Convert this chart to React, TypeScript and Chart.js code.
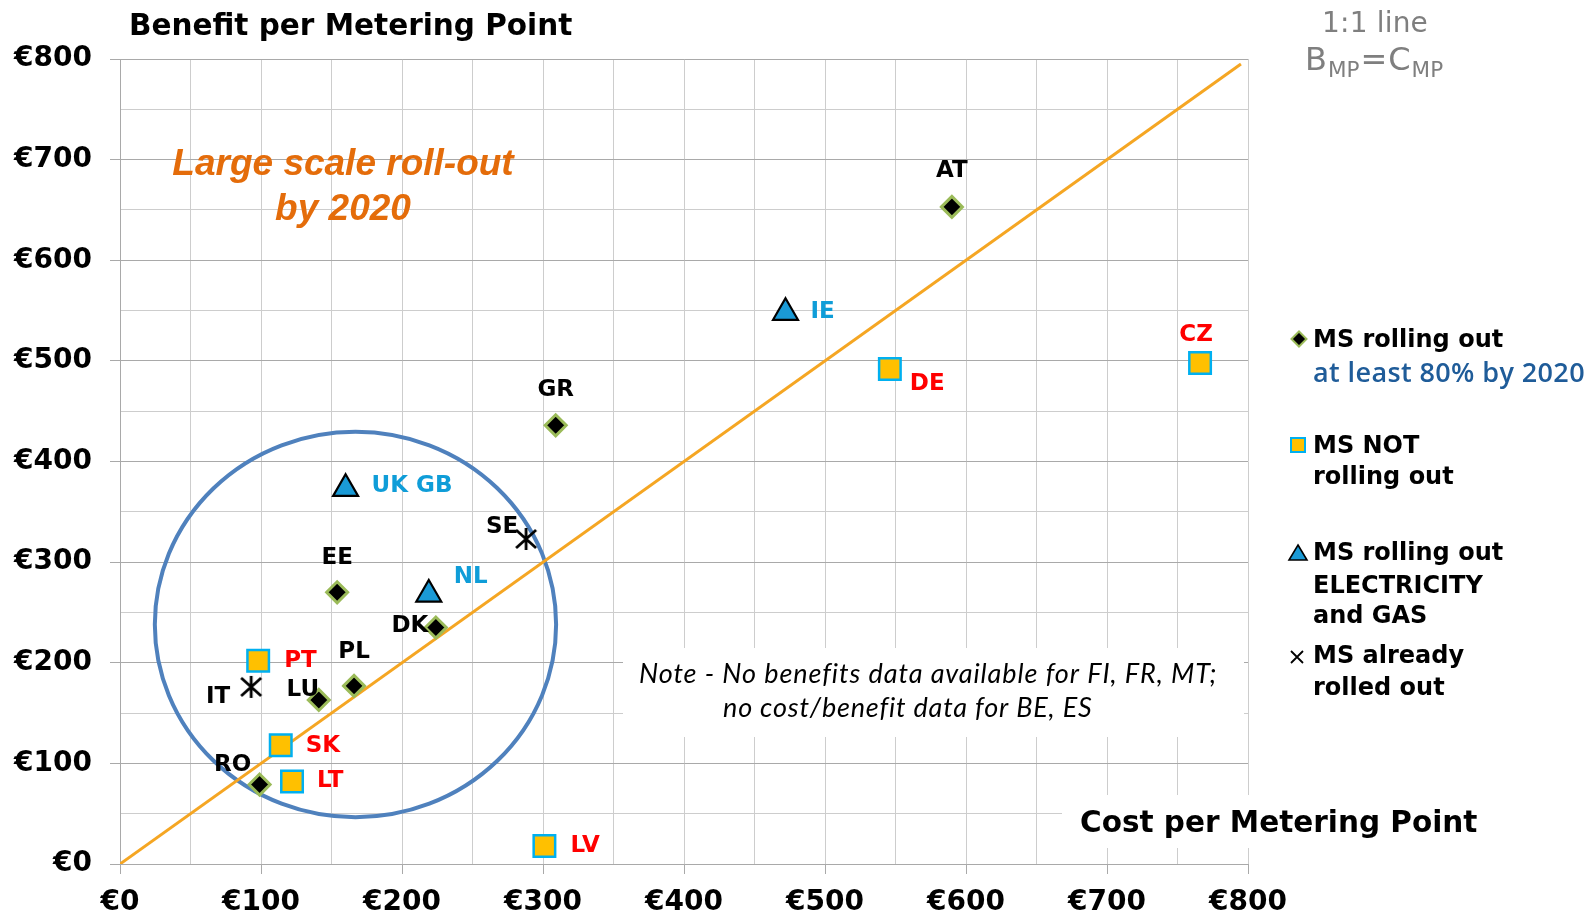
import React, { useEffect, useRef } from 'react';
import { Chart, registerables } from 'chart.js';

Chart.register(...registerables);

// MS rolling out at least 80% by 2020
const rollingCountries = ['AT', 'GR', 'EE', 'DK', 'PL', 'LU', 'RO'];
const rollingCost = [590, 309, 154, 224, 166, 141, 99];
const rollingBenefit = [653, 436, 270, 235, 177, 163, 79];

// MS NOT rolling out
const notRollingCountries = ['CZ', 'DE', 'PT', 'SK', 'LT', 'LV'];
const notRollingCost = [766, 546, 98, 114, 122, 301];
const notRollingBenefit = [498, 492, 202, 118, 82, 18];

// MS rolling out ELECTRICITY and GAS
const dualCountries = ['IE', 'UK GB', 'NL'];
const dualCost = [472, 160, 219];
const dualBenefit = [548, 373, 268];

// MS already rolled out
const doneCountries = ['SE', 'IT'];
const doneCost = [288, 93];
const doneBenefit = [323, 176];

// Labelled ticks on both axes (gridlines every 50)
const tickLabels = [0, 100, 200, 300, 400, 500, 600, 700, 800];

// 1:1 line end points (cost = benefit)
const parityCost = [0, 795];
const parityBenefit = [0, 795];

// Highlight ring around the low-cost group, in axis units
const ringCenterCost = 167;
const ringCenterBenefit = 238;
const ringRadiusCost = 142.3;
const ringRadiusBenefit = 191.5;

const FONT = "'DejaVu Sans', Verdana, sans-serif";
const BLUE_LABEL = '#0f9dd8';
const RED_LABEL = '#ff0000';

// Label placement relative to each marker (pixels)
const labelPlacement: Record<string, { dx: number; dy: number; align: CanvasTextAlign }> = {
  AT: { dx: 0, dy: -36, align: 'center' },
  GR: { dx: 0, dy: -35, align: 'center' },
  EE: { dx: 0, dy: -34, align: 'center' },
  DK: { dx: -26, dy: -2, align: 'center' },
  PL: { dx: 0, dy: -34, align: 'center' },
  LU: { dx: -16, dy: -10, align: 'center' },
  RO: { dx: -27, dy: -19, align: 'center' },
  CZ: { dx: -4, dy: -28, align: 'center' },
  DE: { dx: 20, dy: 15, align: 'left' },
  PT: { dx: 26, dy: 0, align: 'left' },
  SK: { dx: 25, dy: 1, align: 'left' },
  LT: { dx: 25, dy: 0, align: 'left' },
  LV: { dx: 26, dy: 0, align: 'left' },
  IE: { dx: 25, dy: -1, align: 'left' },
  'UK GB': { dx: 26, dy: -3, align: 'left' },
  NL: { dx: 25, dy: -17, align: 'left' },
  SE: { dx: -24, dy: -12, align: 'center' },
  IT: { dx: -33, dy: 10, align: 'center' },
};

function toPoints(cost: number[], benefit: number[]) {
  return cost.map((c, i) => ({ x: c, y: benefit[i] }));
}

// Draws left-aligned text in the given font, grown (up to maxSize) and then
// letter-spaced so that it spans the requested width
function fitText(
  ctx: CanvasRenderingContext2D,
  text: string,
  x: number,
  y: number,
  width: number,
  style: string,
  size: number,
  maxSize: number,
  family: string
) {
  const c = ctx as any;
  c.letterSpacing = '0px';
  ctx.font = `${style} ${size}px ${family}`;
  const w0 = ctx.measureText(text).width;
  const s = Math.min(maxSize, Math.max(size * 0.85, (size * width) / w0));
  ctx.font = `${style} ${s.toFixed(2)}px ${family}`;
  const w = ctx.measureText(text).width;
  const extra = (width - w) / Math.max(1, text.length);
  c.letterSpacing = `${extra.toFixed(2)}px`;
  ctx.fillText(text, x, y);
  c.letterSpacing = '0px';
}

function makeStarMarker(size: number) {
  const c = document.createElement('canvas');
  c.width = size;
  c.height = size;
  const g = c.getContext('2d')!;
  g.strokeStyle = '#000';
  g.lineWidth = 2.8;
  const m = 3;
  g.beginPath();
  g.moveTo(m, m + 1);
  g.lineTo(size - m, size - m - 1);
  g.moveTo(size - m, m + 1);
  g.lineTo(m, size - m - 1);
  g.moveTo(size / 2, m - 1);
  g.lineTo(size / 2, size - m + 1);
  g.stroke();
  return c;
}

function legendDiamond(ctx: CanvasRenderingContext2D, x: number, y: number, r: number) {
  ctx.beginPath();
  ctx.moveTo(x - r, y);
  ctx.lineTo(x, y - r);
  ctx.lineTo(x + r, y);
  ctx.lineTo(x, y + r);
  ctx.closePath();
  ctx.fillStyle = '#000';
  ctx.fill();
  ctx.lineWidth = 2;
  ctx.strokeStyle = '#9bbb59';
  ctx.stroke();
}

function drawLegend(ctx: CanvasRenderingContext2D) {
  ctx.save();
  ctx.textAlign = 'left';
  ctx.textBaseline = 'alphabetic';
  const tx = 1313;
  const boldFont = `bold 24px ${FONT}`;

  legendDiamond(ctx, 1299, 339, 7.5);
  ctx.font = boldFont;
  ctx.fillStyle = '#000';
  ctx.fillText('MS rolling out', tx, 347);
  ctx.fillStyle = '#1f5c99';
  fitText(ctx, 'at least 80% by 2020', tx, 382, 272, '600', 25, 27, "'Open Sans', sans-serif");

  ctx.fillStyle = '#ffc000';
  ctx.fillRect(1291, 438, 14, 14);
  ctx.strokeStyle = '#00b0f0';
  ctx.lineWidth = 2;
  ctx.strokeRect(1291, 438, 14, 14);
  ctx.font = boldFont;
  ctx.fillStyle = '#000';
  ctx.fillText('MS NOT', tx, 453);
  ctx.fillText('rolling out', tx, 484);

  ctx.beginPath();
  ctx.moveTo(1298, 545);
  ctx.lineTo(1307, 560);
  ctx.lineTo(1289, 560);
  ctx.closePath();
  ctx.fillStyle = '#1a9ad6';
  ctx.fill();
  ctx.strokeStyle = '#000';
  ctx.lineWidth = 1.6;
  ctx.stroke();
  ctx.fillStyle = '#000';
  ctx.fillText('MS rolling out', tx, 560);
  ctx.fillText('ELECTRICITY', tx, 593);
  ctx.fillText('and GAS', tx, 623);

  ctx.beginPath();
  ctx.moveTo(1291, 651);
  ctx.lineTo(1303, 663);
  ctx.moveTo(1303, 651);
  ctx.lineTo(1291, 663);
  ctx.strokeStyle = '#000';
  ctx.lineWidth = 1.8;
  ctx.stroke();
  ctx.fillText('MS already', tx, 663);
  ctx.fillText('rolled out', tx, 695);
  ctx.restore();
}

function drawHeaderTexts(ctx: CanvasRenderingContext2D) {
  ctx.save();
  ctx.textBaseline = 'alphabetic';
  ctx.textAlign = 'left';
  ctx.fillStyle = '#000';
  ctx.font = `bold 29.5px ${FONT}`;
  ctx.fillText('Benefit per Metering Point', 129, 35);

  // 1:1 line caption
  ctx.fillStyle = '#7f7f7f';
  fitText(ctx, '1:1 line', 1322, 32, 106, 'normal', 27, 28, FONT);
  let x = 1305;
  const big = `32px ${FONT}`;
  const small = `21.5px ${FONT}`;
  const parts: [string, string, number][] = [
    ['B', big, 70],
    ['MP', small, 77],
    ['=', big, 70],
    ['C', big, 70],
    ['MP', small, 77],
  ];
  for (const [t, f, y] of parts) {
    ctx.font = f;
    ctx.fillText(t, x, y);
    x += ctx.measureText(t).width + 1;
  }

  // Roll-out caption
  ctx.fillStyle = '#e46c0a';
  ctx.font = `italic bold 37px 'Liberation Sans', Arial, sans-serif`;
  ctx.textAlign = 'center';
  ctx.fillText('Large scale roll-out', 343, 175);
  ctx.fillText('by 2020', 343, 220);
  ctx.restore();
}

const backdropPlugin = {
  id: 'backdrop',
  beforeDatasetsDraw(chart: any) {
    const ctx: CanvasRenderingContext2D = chart.ctx;
    const xs = chart.scales.x;
    const ys = chart.scales.y;
    ctx.save();
    // note box
    ctx.fillStyle = '#fff';
    ctx.fillRect(623, 648, 621, 89);
    ctx.fillStyle = '#000';
    ctx.textAlign = 'left';
    ctx.textBaseline = 'alphabetic';
    const noteFamily = "Lato, 'Open Sans', sans-serif";
    fitText(ctx, 'Note - No benefits data available for FI, FR, MT;', 639, 683, 578, 'italic', 23, 27, noteFamily);
    fitText(ctx, 'no cost/benefit data for BE, ES', 723, 717, 369, 'italic', 23, 27, noteFamily);

    // x-axis title box
    ctx.fillStyle = '#fff';
    ctx.fillRect(1062, 795, 440, 53);
    ctx.fillStyle = '#000';
    ctx.font = `bold 29.5px ${FONT}`;
    ctx.fillText('Cost per Metering Point', 1080, 832);

    // highlight ring
    const cx = xs.getPixelForValue(ringCenterCost);
    const cy = ys.getPixelForValue(ringCenterBenefit);
    const rx = xs.getPixelForValue(ringCenterCost + ringRadiusCost) - cx;
    const ry = cy - ys.getPixelForValue(ringCenterBenefit + ringRadiusBenefit);
    ctx.beginPath();
    ctx.ellipse(cx, cy, rx, ry, 0, 0, Math.PI * 2);
    ctx.strokeStyle = '#4f81bd';
    ctx.lineWidth = 4;
    ctx.stroke();
    ctx.restore();
  },
  afterDatasetsDraw(chart: any) {
    const ctx: CanvasRenderingContext2D = chart.ctx;
    const xs = chart.scales.x;
    const ys = chart.scales.y;
    ctx.save();
    ctx.font = `bold 23px ${FONT}`;
    ctx.textBaseline = 'middle';
    const groups: [string[], number[], number[], string][] = [
      [rollingCountries, rollingCost, rollingBenefit, '#000'],
      [notRollingCountries, notRollingCost, notRollingBenefit, RED_LABEL],
      [dualCountries, dualCost, dualBenefit, BLUE_LABEL],
      [doneCountries, doneCost, doneBenefit, '#000'],
    ];
    for (const [names, cost, benefit, color] of groups) {
      names.forEach((n, i) => {
        const p = labelPlacement[n];
        const px = xs.getPixelForValue(cost[i]);
        const py = ys.getPixelForValue(benefit[i]);
        ctx.fillStyle = color;
        ctx.textAlign = p.align;
        ctx.fillText(n, px + p.dx, py + p.dy);
      });
    }
    ctx.restore();
  },
  afterDraw(chart: any) {
    drawHeaderTexts(chart.ctx);
    drawLegend(chart.ctx);
  },
};

function axisOptions(kind: 'x' | 'y') {
  return {
    type: 'linear' as const,
    min: 0,
    max: 800,
    afterFit: (s: any) => {
      if (kind === 'x') s.height = 51;
      else s.width = 120;
    },
    ticks: {
      stepSize: 50,
      autoSkip: false,
      maxRotation: 0,
      padding: kind === 'x' ? 12 : 18,
      color: '#000',
      font: { family: FONT, size: 28, weight: 'bold' as const },
      callback: (v: any) => (tickLabels.includes(Number(v)) ? '€' + v : ''),
    },
    grid: {
      tickLength: 10,
      lineWidth: 1,
      color: (c: any) =>
        kind === 'y' && c.tick && c.tick.value % 100 === 0 ? '#a9a9a9' : '#cdcdcd',
      tickColor: (c: any) =>
        c.tick && c.tick.value % 100 === 0 ? '#a9a9a9' : 'rgba(0,0,0,0)',
    },
    border: { color: '#a9a9a9' },
  };
}

export default function App() {
  const ref = useRef<HTMLCanvasElement | null>(null);

  useEffect(() => {
    document.body.style.margin = '0';
    const star = makeStarMarker(26);
    const chart = new Chart(ref.current!, {
      type: 'scatter',
      data: {
        datasets: [
          {
            label: 'MS rolling out at least 80% by 2020',
            data: toPoints(rollingCost, rollingBenefit),
            pointStyle: 'rectRot',
            pointRadius: 10.5,
            backgroundColor: '#000',
            borderColor: '#9bbb59',
            borderWidth: 3,
          },
          {
            label: 'MS NOT rolling out',
            data: toPoints(notRollingCost, notRollingBenefit),
            pointStyle: 'rect',
            pointRadius: 15.2,
            backgroundColor: '#ffc000',
            borderColor: '#00b0f0',
            borderWidth: 2.5,
          },
          {
            label: 'MS rolling out ELECTRICITY and GAS',
            data: toPoints(dualCost, dualBenefit),
            pointStyle: 'triangle',
            pointRadius: 14.4,
            backgroundColor: '#1a9ad6',
            borderColor: '#000',
            borderWidth: 2.2,
          },
          {
            label: 'MS already rolled out',
            data: toPoints(doneCost, doneBenefit),
            pointStyle: star as any,
            pointRadius: 13,
          },
          {
            label: '1:1 line',
            type: 'line' as any,
            data: toPoints(parityCost, parityBenefit),
            borderColor: '#f5a623',
            borderWidth: 3,
            pointRadius: 0,
            showLine: true,
            fill: false,
          },
        ],
      },
      options: {
        animation: false,
        responsive: false,
        events: [],
        layout: { padding: { top: 59, right: 348, left: 0, bottom: 0 } },
        plugins: { legend: { display: false }, tooltip: { enabled: false } },
        scales: { x: axisOptions('x') as any, y: axisOptions('y') as any },
      },
      plugins: [backdropPlugin],
    });
    return () => chart.destroy();
  }, []);

  return (
    <div style={{ position: 'fixed', left: 0, top: 0, width: 1596, height: 915, background: '#fff' }}>
      <canvas ref={ref} width={1596} height={915} style={{ width: 1596, height: 915 }} />
    </div>
  );
}
